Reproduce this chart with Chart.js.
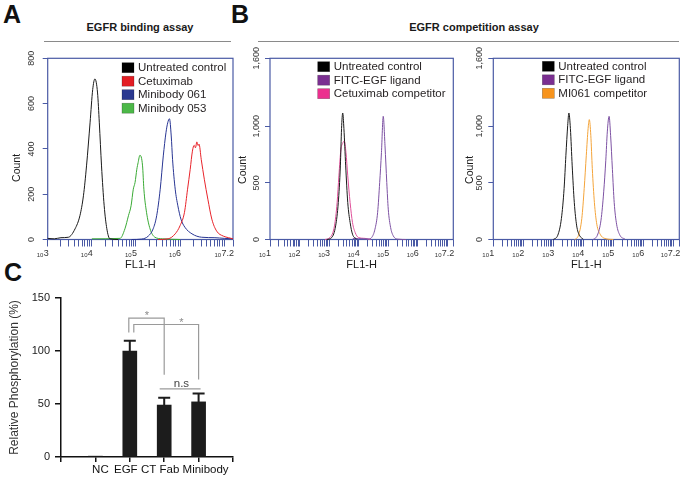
<!DOCTYPE html>
<html><head><meta charset="utf-8">
<script src="https://cdn.jsdelivr.net/npm/chart.js@4.4.0/dist/chart.umd.min.js"></script>
<style>
html,body{margin:0;padding:0;background:#fff;}
#fig{position:relative;width:689px;height:481px;overflow:hidden;font-family:"Liberation Sans",Arial,sans-serif;background:#fff;}
canvas{position:absolute;}
.lbl{position:absolute;white-space:nowrap;color:#111;}
.letter{font-weight:bold;font-size:25px;line-height:25px;}
.ttl{font-weight:bold;font-size:11px;line-height:13px;transform:translateX(-50%);color:#1a1a1a;}
.rule{position:absolute;height:0;border-top:1px solid #8a8a8a;}
</style></head>
<body><div id="fig">
<div class="lbl letter" style="left:3px;top:1.7px">A</div>
<div class="lbl letter" style="left:231px;top:1.7px">B</div>
<div class="lbl letter" style="left:4px;top:260px">C</div>
<div class="lbl ttl" style="left:140px;top:21px">EGFR binding assay</div>
<div class="lbl ttl" style="left:474px;top:21px">EGFR competition assay</div>
<div class="rule" style="left:44px;top:41px;width:187px"></div>
<div class="rule" style="left:258px;top:41px;width:421px"></div>
<canvas id="cA" width="240" height="240" style="left:0px;top:40px"></canvas>
<canvas id="cB1" width="235" height="240" style="left:225px;top:40px"></canvas>
<canvas id="cB2" width="239" height="240" style="left:450px;top:40px"></canvas>
<canvas id="cC" width="240" height="196" style="left:0px;top:285px"></canvas>
</div>
<script>
// ---------------- DATA ----------------
// Panel A: EGFR binding assay (x = log10 FL1-H, y = count)
const aXTickExps = [3, 4, 5, 6, 7.2];
const aYTicks = [0, 200, 400, 600, 800];
const aCtrlX = [3.00, 3.15, 3.30, 3.47, 3.62, 3.73, 3.81, 3.88, 3.96, 4.02, 4.07, 4.13, 4.17, 4.22, 4.28, 4.34, 4.41, 4.60];
const aCtrlY = [5, 3, 8, 10, 47, 105, 193, 325, 515, 662, 709, 647, 515, 325, 149, 48, 3, 0];
const aCetuxX = [5.50, 5.73, 5.89, 6.00, 6.10, 6.17, 6.23, 6.28, 6.32, 6.35, 6.38, 6.41, 6.43, 6.48, 6.55, 6.63, 6.72, 6.83, 6.98, 7.10, 7.20];
const aCetuxY = [0, 3, 25, 61, 120, 222, 310, 390, 416, 405, 431, 415, 421, 354, 266, 178, 90, 37, 15, 8, 3];
const aMb061X = [4.90, 5.13, 5.28, 5.39, 5.47, 5.55, 5.62, 5.68, 5.72, 5.76, 5.80, 5.83, 5.89, 5.95, 6.02, 6.11, 6.27, 6.49, 6.79, 7.00, 7.20];
const aMb061Y = [0, 2, 15, 47, 105, 222, 369, 471, 515, 533, 457, 354, 222, 149, 90, 54, 25, 10, 8, 5, 3];
const aMb053X = [4.00, 4.64, 4.75, 4.83, 4.89, 4.94, 4.98, 5.02, 5.05, 5.09, 5.15, 5.18, 5.24, 5.32, 5.43, 5.60, 6.00];
const aMb053Y = [3, 5, 47, 105, 149, 222, 252, 310, 340, 372, 325, 222, 120, 47, 10, 3, 0];

// Panel B: EGFR competition assay
const bXTickExps = [1, 2, 3, 4, 5, 6, 7.2];
const bYTicks = [0, 500, 1000, 1600];
const b1CtrlX = [2.92, 3.09, 3.22, 3.31, 3.38, 3.42, 3.46, 3.50, 3.56, 3.63, 3.71, 3.79, 3.93];
const b1CtrlY = [0, 18, 120, 326, 650, 979, 1117, 979, 650, 326, 150, 47, 3];
const b1LigX = [3.80, 4.00, 4.33, 4.44, 4.55, 4.64, 4.71, 4.77, 4.83, 4.89, 4.95, 5.00, 5.08, 5.17, 5.34, 5.60];
const b1LigY = [10, 8, 5, 18, 91, 238, 503, 768, 1088, 827, 503, 268, 106, 32, 3, 0];
const b1CetX = [2.86, 3.03, 3.18, 3.27, 3.33, 3.40, 3.46, 3.51, 3.57, 3.63, 3.71, 3.79, 3.88, 3.99, 4.21, 4.40];
const b1CetY = [0, 18, 120, 326, 562, 797, 850, 870, 768, 562, 326, 150, 62, 18, 10, 0];
const b2CtrlX = [3.00, 3.15, 3.27, 3.36, 3.42, 3.48, 3.52, 3.57, 3.63, 3.70, 3.78, 3.87, 4.00];
const b2CtrlY = [0, 38, 185, 450, 744, 1008, 1117, 979, 650, 326, 120, 38, 3];
const b2LigX = [4.33, 4.47, 4.59, 4.68, 4.75, 4.80, 4.86, 4.91, 4.97, 5.03, 5.11, 5.22, 5.39];
const b2LigY = [0, 38, 171, 421, 700, 950, 1088, 920, 620, 326, 135, 38, 3];
const b2MiX = [3.72, 3.84, 3.95, 4.03, 4.10, 4.16, 4.20, 4.25, 4.30, 4.37, 4.45, 4.56, 4.72, 5.00];
const b2MiY = [0, 38, 185, 450, 744, 979, 1059, 920, 626, 326, 135, 47, 9, 0];

// Panel C: relative phosphorylation
const cCats = ['NC', 'EGF', 'CT Fab', 'Minibody'];
const cVals = [0.8, 100, 49, 52];
const cErrs = [0, 9.7, 7, 8];
const cYTicks = [0, 50, 100, 150];

// ---------------- RENDER ----------------
Chart.defaults.font.family = '"Liberation Sans", Arial, sans-serif';
const FRAME = '#4a5aa5';
const FAM = '"Liberation Sans", Arial, sans-serif';

function logTicks(min, max) {
  const t = [];
  for (let n = Math.floor(min); n <= Math.ceil(max); n++)
    for (let k = 1; k <= 9; k++) {
      const v = n + Math.log10(k);
      if (v >= min - 1e-9 && v <= max + 1e-9) t.push(v);
    }
  if (t[t.length - 1] < max - 1e-9) t.push(max);
  return t;
}

const histDecor = {
  id: 'histDecor',
  beforeDatasetsDraw(chart, args, o) {
    const {ctx, chartArea: a} = chart;
    ctx.save();
    ctx.strokeStyle = FRAME; ctx.lineWidth = 1.2;
    ctx.strokeRect(a.left, a.top, a.right - a.left, a.bottom - a.top);
    ctx.restore();
  },
  afterDraw(chart, args, o) {
    const {ctx, chartArea: a} = chart;
    const xs = chart.scales.x;
    ctx.save();
    ctx.fillStyle = '#333';
    ctx.textBaseline = 'alphabetic';
    ctx.textAlign = 'right';
    o.tickExps.forEach(e => {
      const px = xs.getPixelForValue(e) + 1;
      const ex = String(e);
      ctx.font = '9px ' + FAM;
      const we = ctx.measureText(ex).width;
      ctx.fillText(ex, px, a.bottom + 16.5);
      ctx.font = '6px ' + FAM;
      ctx.fillText('10', px - we - 0.3, a.bottom + 17.5);
    });
    // y title
    ctx.save();
    ctx.translate(a.left + o.countDX, a.top + o.countFY * (a.bottom - a.top));
    ctx.rotate(-Math.PI / 2);
    ctx.font = '10.5px ' + FAM;
    ctx.textAlign = 'center'; ctx.textBaseline = 'middle'; ctx.fillStyle = '#1a1a1a';
    ctx.fillText('Count', 0, 0);
    ctx.restore();
    // legend
    ctx.font = '11.5px ' + FAM;
    ctx.textAlign = 'left'; ctx.textBaseline = 'middle';
    chart.data.datasets.forEach((d, i) => {
      const y = a.top + o.legY + i * o.legRow;
      const x = a.left + o.legX;
      ctx.fillStyle = d.boxColor;
      ctx.fillRect(x, y - 5, 12, 10);
      ctx.strokeStyle = 'rgba(0,0,0,0.35)'; ctx.lineWidth = 0.6;
      ctx.strokeRect(x, y - 5, 12, 10);
      ctx.fillStyle = '#231f20';
      ctx.fillText(d.label, x + 16, y + 0.5);
    });
    ctx.restore();
  }
};

function makeHist(id, o) {
  return new Chart(document.getElementById(id), {
    type: 'line',
    data: {
      datasets: o.series.map(s => ({
        label: s.label,
        data: s.x.map((v, i) => ({x: v, y: s.y[i]})),
        borderColor: s.line, boxColor: s.box,
        borderWidth: 1, pointRadius: 0, fill: false,
        cubicInterpolationMode: 'monotone', clip: 4
      }))
    },
    options: {
      responsive: false, animation: false, devicePixelRatio: 1, events: [],
      layout: {padding: {left: 0, top: 18.3, right: o.padRight, bottom: 8.5}},
      plugins: {
        legend: {display: false}, tooltip: {enabled: false},
        histDecor: {tickExps: o.tickExps, legX: o.legX, legY: o.legY, legRow: 13.5, countDX: o.countDX, countFY: o.countFY}
      },
      scales: {
        x: {
          type: 'linear', min: o.xMin, max: o.xMax,
          afterBuildTicks: s => { s.ticks = logTicks(o.xMin, o.xMax).map(v => ({value: v})); },
          afterFit: s => { s.height = 32; },
          grid: {drawOnChartArea: false, drawTicks: true, tickLength: 7, color: FRAME, lineWidth: 1},
          border: {display: false},
          ticks: {display: false},
          title: {display: true, text: 'FL1-H', font: {size: 11}, color: '#1a1a1a', padding: 0}
        },
        y: {
          min: 0, max: o.yTicks[o.yTicks.length - 1],
          afterBuildTicks: s => { s.ticks = o.yTicks.map(v => ({value: v})); },
          afterFit: s => { s.width = o.yW; },
          grid: {drawOnChartArea: false, drawTicks: true, tickLength: 5, color: FRAME, lineWidth: 1},
          border: {display: false},
          ticks: {autoSkip: false, minRotation: 90, maxRotation: 90, crossAlign: 'center', padding: o.yPad,
                  font: {size: 9}, color: '#333', callback: v => Number(v).toLocaleString('en-US')}
        }
      }
    },
    plugins: [histDecor]
  });
}

makeHist('cA', {
  xMin: 3, xMax: 7.2, yTicks: aYTicks, tickExps: aXTickExps, yW: 47.7, yPad: 3.5, padRight: 7,
  legX: 74.3, legY: 9.4, countDX: -31, countFY: 0.605,
  series: [
    {label: 'Untreated control', x: aCtrlX, y: aCtrlY, line: '#1a1a1a', box: '#000000'},
    {label: 'Cetuximab', x: aCetuxX, y: aCetuxY, line: '#e8232a', box: '#e31e24'},
    {label: 'Minibody 061', x: aMb061X, y: aMb061Y, line: '#283593', box: '#2b3990'},
    {label: 'Minibody 053', x: aMb053X, y: aMb053Y, line: '#3aaa35', box: '#4cb848'}
  ]
});
makeHist('cB1', {
  xMin: 1, xMax: 7.2, yTicks: bYTicks, tickExps: bXTickExps, yW: 45, yPad: -2.9, padRight: 6.7,
  legX: 47.7, legY: 8.4, countDX: -26.7, countFY: 0.616,
  series: [
    {label: 'Untreated control', x: b1CtrlX, y: b1CtrlY, line: '#1a1a1a', box: '#000000'},
    {label: 'FITC-EGF ligand', x: b1LigX, y: b1LigY, line: '#7d52a3', box: '#7b2f91'},
    {label: 'Cetuximab competitor', x: b1CetX, y: b1CetY, line: '#e0509a', box: '#ec2f8e'}
  ]
});
makeHist('cB2', {
  xMin: 1, xMax: 7.2, yTicks: bYTicks, tickExps: bXTickExps, yW: 43.3, yPad: -2.9, padRight: 9.7,
  legX: 49, legY: 8, countDX: -23.3, countFY: 0.616,
  series: [
    {label: 'Untreated control', x: b2CtrlX, y: b2CtrlY, line: '#1a1a1a', box: '#000000'},
    {label: 'FITC-EGF ligand', x: b2LigX, y: b2LigY, line: '#7d52a3', box: '#7b2f91'},
    {label: 'MI061 competitor', x: b2MiX, y: b2MiY, line: '#f4a43a', box: '#f7941d'}
  ]
});

// ---- Panel C ----
const cLabelShift = [5, -4, -4, 7];
const cSig = [
  {a: 1, b: 2, y: 131, aEnd: 117.5, bEnd: 77.5, aDx: -1},
  {a: 1, b: 3, y: 125, aEnd: 117.5, bEnd: 73, aDx: 4}
];
const cDecor = {
  id: 'cDecor',
  afterDatasetsDraw(chart) {
    const {ctx, chartArea: a} = chart;
    const xs = chart.scales.x, ys = chart.scales.y;
    const px = i => xs.getPixelForValue(i + 1);
    ctx.save();
    // error bars
    ctx.strokeStyle = '#1c1c1c'; ctx.lineWidth = 2;
    cVals.forEach((v, i) => {
      if (!cErrs[i]) return;
      const x = px(i), y0 = ys.getPixelForValue(v), y1 = ys.getPixelForValue(v + cErrs[i]);
      ctx.beginPath();
      ctx.moveTo(x, y0); ctx.lineTo(x, y1);
      ctx.moveTo(x - 6, y1); ctx.lineTo(x + 6, y1);
      ctx.stroke();
    });
    // significance brackets
    ctx.strokeStyle = '#9a9a9a'; ctx.lineWidth = 1.2;
    ctx.fillStyle = '#8a8a8a';
    ctx.font = '11px ' + FAM; ctx.textAlign = 'center'; ctx.textBaseline = 'alphabetic';
    cSig.forEach(s => {
      const xa = px(s.a) + s.aDx, xb = px(s.b), yy = ys.getPixelForValue(s.y);
      ctx.beginPath();
      ctx.moveTo(xa, ys.getPixelForValue(s.aEnd)); ctx.lineTo(xa, yy);
      ctx.lineTo(xb, yy); ctx.lineTo(xb, ys.getPixelForValue(s.bEnd));
      ctx.stroke();
      const sx = (px(s.b - 1) + px(s.b)) / 2;
      ctx.fillText('*', sx, yy + 1.3);
    });
    // n.s.
    const yn = ys.getPixelForValue(64.3);
    ctx.beginPath();
    ctx.moveTo(px(2) - 4.5, yn); ctx.lineTo(px(3) + 2, yn); ctx.stroke();
    ctx.fillStyle = '#444'; ctx.font = '11.5px ' + FAM;
    ctx.fillText('n.s', (px(2) + px(3)) / 2, yn - 2);
    // x labels
    ctx.fillStyle = '#111'; ctx.font = '11.5px ' + FAM; ctx.textBaseline = 'middle';
    cCats.forEach((c, i) => ctx.fillText(c, px(i) + cLabelShift[i], a.bottom + 13));
    ctx.restore();
  }
};
new Chart(document.getElementById('cC'), {
  type: 'bar',
  data: {
    labels: ['', ...cCats, ''],
    datasets: [{data: [null, ...cVals, null], backgroundColor: '#1c1c1c', barThickness: 14}]
  },
  options: {
    responsive: false, animation: false, devicePixelRatio: 1, events: [],
    layout: {padding: {left: 0, top: 13, right: 7, bottom: 4}},
    plugins: {legend: {display: false}, tooltip: {enabled: false}},
    scales: {
      x: {
        type: 'category', offset: false,
        grid: {offset: false, drawOnChartArea: false, tickLength: 5, color: '#111', lineWidth: 1.5},
        border: {color: '#111', width: 1.5},
        ticks: {display: false},
        afterFit: s => { s.height = 20; }
      },
      y: {
        min: 0, max: 150,
        afterBuildTicks: s => { s.ticks = cYTicks.map(v => ({value: v})); },
        afterFit: s => { s.width = 61; },
        grid: {drawOnChartArea: false, tickLength: 6, color: '#111', lineWidth: 1.5},
        border: {color: '#111', width: 1.5},
        ticks: {font: {size: 11}, color: '#222', padding: 5},
        title: {display: true, text: 'Relative Phosphorylation (%)', font: {size: 12}, color: '#333', padding: {top: 7.8, bottom: 0}}
      }
    }
  },
  plugins: [cDecor]
});
</script>
</body></html>
